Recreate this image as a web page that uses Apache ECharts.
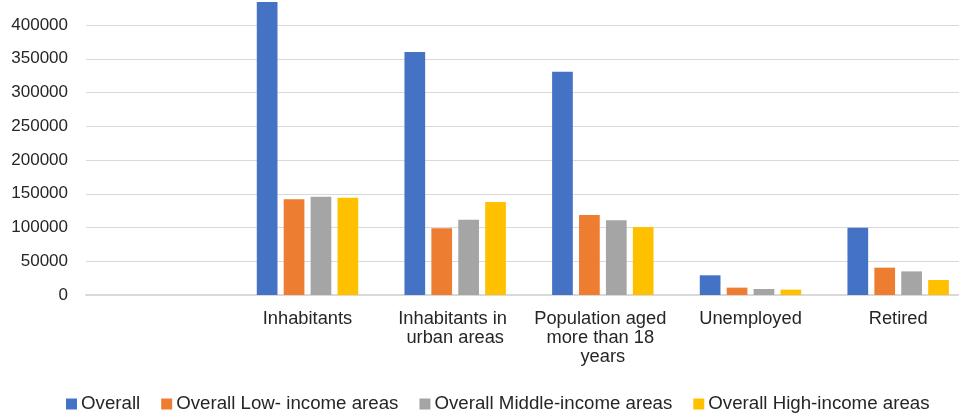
<!DOCTYPE html>
<html>
<head>
<meta charset="utf-8">
<script src="https://cdn.jsdelivr.net/npm/echarts@6/dist/echarts.min.js"></script>
<style>
html,body{margin:0;padding:0;background:#fff;}
#chart{width:959px;height:413px;}
</style>
</head>
<body>
<div id="chart"></div>
<script>
var categories = ['', 'Inhabitants', 'Inhabitants in urban areas', 'Population aged more than 18 years', 'Unemployed', 'Retired'];
var seriesNames = ['Overall', 'Overall Low- income areas', 'Overall Middle-income areas', 'Overall High-income areas'];
var overall = [null, 434000, 360000, 330800, 29200, 99700];
var lowIncome = [null, 141800, 98800, 118500, 10900, 40500];
var middleIncome = [null, 145600, 111600, 110600, 8900, 35000];
var highIncome = [null, 144100, 137800, 100700, 7900, 22200];
var colors = ['#4472C4', '#ED7D31', '#A5A5A5', '#FFC000'];

var chart = echarts.init(document.getElementById('chart'), null, {renderer: 'canvas'});
var dataSets = [overall, lowIncome, middleIncome, highIncome];
var font = 'Liberation Sans, Arial, sans-serif';
var textColor = '#262626';
chart.setOption({
  animation: false,
  color: colors,
  textStyle: {fontFamily: font},
  grid: {left: 86, right: -13, top: -8.75, bottom: 118, outerBoundsMode: 'none', containLabel: false},
  legend: {
    data: seriesNames,
    left: 61,
    top: 389.5,
    itemWidth: 11,
    itemHeight: 11,
    itemGap: 21,
    icon: 'rect',
    textStyle: {fontFamily: font, fontSize: 18.7, color: textColor, padding: [0, 0, 0, -1]}
  },
  xAxis: {
    type: 'category',
    data: categories,
    axisLine: {show: true, lineStyle: {color: '#d9d9d9', width: 2}},
    axisTick: {show: false},
    axisLabel: {
      interval: 0,
      margin: 14,
      fontFamily: font,
      fontSize: 18.3,
      lineHeight: 19.3,
      color: textColor,
      width: 140,
      overflow: 'break',
      align: 'center'
    }
  },
  yAxis: {
    type: 'value',
    min: 0,
    max: 450000,
    interval: 50000,
    axisLine: {show: false},
    axisTick: {show: false},
    splitLine: {lineStyle: {color: '#d9d9d9', width: 1}},
    axisLabel: {
      margin: 18,
      fontFamily: font,
      fontSize: 17,
      color: textColor,
      showMaxLabel: false,
      formatter: function (v) { return String(v); }
    }
  },
  series: dataSets.map(function (d, i) {
    return {
      name: seriesNames[i],
      type: 'bar',
      data: d,
      barWidth: 20.7,
      barGap: '30%',
      itemStyle: {color: colors[i]}
    };
  })
});
</script>
</body>
</html>
